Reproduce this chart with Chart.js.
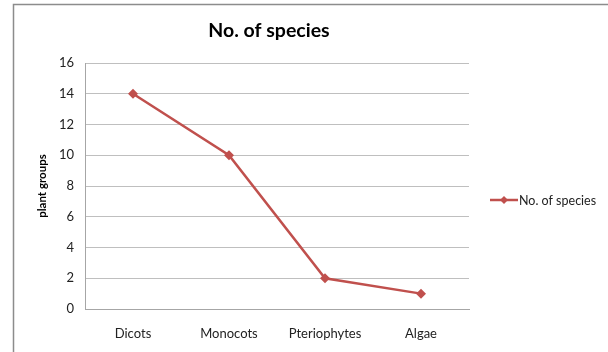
<!DOCTYPE html>
<html>
<head>
<meta charset="utf-8">
<script src="https://cdn.jsdelivr.net/npm/chart.js@4"></script>
<style>
  html, body { margin: 0; padding: 0; background: #fff; }
  #wrap { width: 608px; height: 352px; }
</style>
</head>
<body>
<div id="wrap"><canvas id="speciesChart" width="608" height="352"></canvas></div>
<script>
// chart data
const groups = ['Dicots', 'Monocots', 'Pteriophytes', 'Algae'];
const speciesCounts = [14, 10, 2, 1];
const yTicks = [0, 2, 4, 6, 8, 10, 12, 14, 16];
const seriesLabel = 'No. of species';

const lineColor = '#C0504D';
const fontFamily = 'Lato, "Open Sans", sans-serif';

// outer frame, title and legend drawn by hand
const framePlugin = {
    id: 'frame',
    beforeDraw(chart) {
        const ctx = chart.ctx;
        ctx.save();
        ctx.fillStyle = '#fff';
        ctx.fillRect(0, 0, chart.width, chart.height);
        ctx.strokeStyle = '#8c8c8c';
        ctx.lineWidth = 1.5;
        ctx.strokeRect(13.5, 4.5, 700, 400);
        ctx.restore();
    },
    afterDraw(chart) {
        const ctx = chart.ctx;
        ctx.save();
        // title
        ctx.fillStyle = '#000';
        ctx.font = 'bold 19.5px ' + fontFamily;
        ctx.textAlign = 'center';
        ctx.textBaseline = 'middle';
        ctx.fillText(seriesLabel, 269, 31);
        // legend
        const ly = 200;
        ctx.strokeStyle = lineColor;
        ctx.lineWidth = 2.5;
        ctx.beginPath();
        ctx.moveTo(490, ly);
        ctx.lineTo(518, ly);
        ctx.stroke();
        ctx.fillStyle = lineColor;
        ctx.beginPath();
        ctx.moveTo(504, ly - 4);
        ctx.lineTo(508, ly);
        ctx.lineTo(504, ly + 4);
        ctx.lineTo(500, ly);
        ctx.closePath();
        ctx.fill();
        ctx.fillStyle = '#222';
        ctx.font = '12.5px ' + fontFamily;
        ctx.textAlign = 'left';
        ctx.fillText(chart.data.datasets[0].label, 519, ly + 1);
        ctx.restore();
    }
};

const speciesCtx = document.getElementById('speciesChart').getContext('2d');
const speciesChart = new Chart(speciesCtx, {
    type: 'line',
    data: {
        labels: groups,
        datasets: [{
            label: seriesLabel,
            data: speciesCounts,
            borderColor: lineColor,
            backgroundColor: lineColor,
            borderWidth: 2.5,
            tension: 0,
            pointStyle: 'rectRot',
            pointRadius: 5,
            pointHoverRadius: 5,
            pointBackgroundColor: lineColor,
            pointBorderColor: lineColor,
            pointBorderWidth: 0
        }]
    },
    options: {
        responsive: false,
        animation: false,
        layout: {
            padding: { left: 13, top: 63, right: 139, bottom: 0 }
        },
        scales: {
            x: {
                offset: true,
                grid: { display: false, offset: true },
                border: { display: true, color: '#a6a6a6', width: 1 },
                ticks: {
                    color: '#222',
                    font: { family: fontFamily, size: 13 },
                    padding: 9,
                    maxRotation: 0
                },
                afterFit(scale) { scale.height = 43; }
            },
            y: {
                min: 0,
                max: 16,
                afterBuildTicks(scale) {
                    scale.ticks = yTicks.map(v => ({ value: v }));
                },
                grid: {
                    color: '#bfbfbf',
                    lineWidth: 1,
                    drawTicks: false
                },
                border: { display: true, color: '#a6a6a6', width: 1 },
                ticks: {
                    color: '#222',
                    font: { family: fontFamily, size: 13 },
                    padding: 11
                },
                title: {
                    display: true,
                    text: 'plant groups',
                    color: '#000',
                    font: { family: fontFamily, size: 11.5, weight: 'bold' },
                    padding: { top: 22, bottom: 0 }
                },
                afterFit(scale) { scale.width = 72; }
            }
        },
        plugins: {
            legend: { display: false },
            tooltip: { enabled: false }
        }
    },
    plugins: [framePlugin]
});
</script>
</body>
</html>
